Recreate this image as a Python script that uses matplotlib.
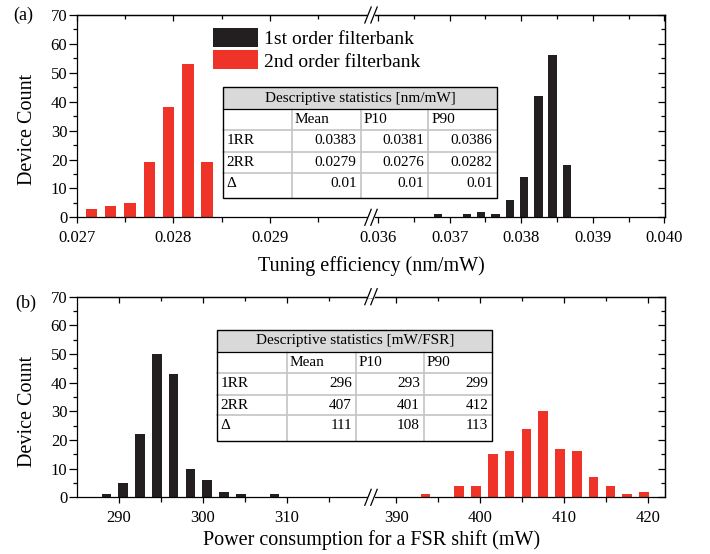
import matplotlib
matplotlib.use("Agg")
import matplotlib.pyplot as plt
from matplotlib.lines import Line2D
from matplotlib.patches import Rectangle

plt.rcParams['font.family'] = ['Liberation Serif', 'DejaVu Serif']
plt.rcParams['axes.linewidth'] = 0.9

# ---------------- data ----------------
# (a) tuning efficiency histograms (bin centres in nm/mW, device counts)
eff_2nd_centers = [0.02715, 0.02735, 0.02755, 0.02775, 0.02795, 0.02815, 0.02835]
eff_2nd_counts = [3, 4, 5, 19, 38, 53, 19]
eff_1st_centers = [0.03684, 0.03724, 0.03744, 0.03764, 0.03784, 0.03804,
                   0.03824, 0.03844, 0.03864]
eff_1st_counts = [1, 1, 2, 1, 6, 14, 42, 56, 18]
eff_bar_width = 0.000118

# (b) power consumption for an FSR shift (mW)
pwr_1st_centers = [288.5, 290.5, 292.5, 294.5, 296.5, 298.5, 300.5, 302.5, 304.5, 308.5]
pwr_1st_counts = [1, 5, 22, 50, 43, 10, 6, 2, 1, 1]
pwr_2nd_centers = [393.5, 397.5, 399.5, 401.5, 403.5, 405.5, 407.5, 409.5,
                   411.5, 413.5, 415.5, 417.5, 419.5]
pwr_2nd_counts = [1, 4, 4, 15, 16, 24, 30, 17, 16, 7, 4, 1, 2]
pwr_bar_width = 1.16

# descriptive statistics tables
stat_cols = ["Mean", "P10", "P90"]
stat_rows = ["1RR", "2RR", "\u0394"]
eff_title = "Descriptive statistics [nm/mW]"
eff_stats = [["0.0383", "0.0381", "0.0386"],
             ["0.0279", "0.0276", "0.0282"],
             ["0.01", "0.01", "0.01"]]
pwr_title = "Descriptive statistics [mW/FSR]"
pwr_stats = [["296", "293", "299"],
             ["407", "401", "412"],
             ["111", "108", "113"]]

legend_labels = ["1st order filterbank", "2nd order filterbank"]
C_1ST = "#231f20"
C_2ND = "#ef3329"

# ---------------- layout ----------------
W, H = 710, 554
fig = plt.figure(figsize=(W / 100, H / 100), dpi=100)


def fx(x):
    return x / W


def fy(y):
    return 1 - y / H


X0, XM, X1 = 77, 371, 665
TICK_FS = 12
LABEL_FS = 14.5


def style_pair(ax_l, ax_r, left_major, left_minor, right_major, right_minor, fmt):
    for ax in (ax_l, ax_r):
        ax.set_ylim(0, 70)
        ax.set_yticks(range(0, 71, 10))
        ax.set_yticks(range(5, 70, 10), minor=True)
        ax.tick_params(axis='x', which='major', direction='out', length=4.5,
                       width=0.9, labelsize=TICK_FS, pad=4.5)
        ax.tick_params(axis='x', which='minor', direction='out', length=3.5, width=0.9)
        ax.tick_params(axis='y', which='major', length=5.5, width=0.9,
                       labelsize=TICK_FS, pad=1.5)
        ax.tick_params(axis='y', which='minor', length=3, width=0.9)
        ax.set_facecolor('none')
    ax_l.set_xticks(left_major)
    ax_l.set_xticks(left_minor, minor=True)
    ax_r.set_xticks(right_major)
    ax_r.set_xticks(right_minor, minor=True)
    ax_l.set_xticklabels([fmt(v) for v in left_major])
    ax_r.set_xticklabels([fmt(v) for v in right_major])

    ax_l.spines['right'].set_visible(False)
    ax_r.spines['left'].set_visible(False)
    ax_l.tick_params(axis='y', which='both', direction='out', right=False)
    ax_r.tick_params(axis='y', which='both', left=False, labelleft=False, right=False)

    # inward ticks along the top edge of both segments
    for ax, mj, mn in ((ax_l, left_major, left_minor), (ax_r, right_major, right_minor)):
        sec = ax.secondary_xaxis('top')
        sec.set_xticks(mj)
        sec.set_xticks(mn, minor=True)
        sec.tick_params(which='major', direction='in', length=4.5, width=0.9, labeltop=False)
        sec.tick_params(which='minor', direction='in', length=3, width=0.9)
        sec.spines['top'].set_linewidth(0.9)
    # inward ticks along the right edge
    secy = ax_r.secondary_yaxis('right')
    secy.set_yticks(range(0, 71, 10))
    secy.set_yticks(range(5, 70, 10), minor=True)
    secy.tick_params(which='major', direction='in', length=5, width=0.9, labelright=False)
    secy.tick_params(which='minor', direction='in', length=3, width=0.9)
    secy.spines['right'].set_linewidth(0.9)


def break_marks(y_top, y_bot):
    for y in (y_top, y_bot):
        fig.add_artist(Rectangle((fx(367.5), fy(y + 1.5)), 7 / W, 3 / H,
                                 transform=fig.transFigure, facecolor='white',
                                 edgecolor='none', zorder=5))
        for xc in (368, 374):
            fig.add_artist(Line2D([fx(xc - 3.2), fx(xc + 3.2)], [fy(y + 8), fy(y - 8)],
                                  transform=fig.transFigure, color='black',
                                  lw=0.9, zorder=6))


def draw_table(col_edges, row_edges, title, cols, rows, cells, fs=11):
    tr = fig.transFigure
    left, right = col_edges[0], col_edges[-1]
    top, bottom = row_edges[0], row_edges[-1]
    fig.add_artist(Rectangle((fx(left), fy(bottom)), (right - left) / W, (bottom - top) / H,
                             transform=tr, facecolor='white', edgecolor='none', zorder=3))
    fig.add_artist(Rectangle((fx(left), fy(row_edges[1])), (right - left) / W,
                             (row_edges[1] - top) / H, transform=tr,
                             facecolor='#d9d9d9', edgecolor='none', zorder=3))
    grid = '#c4c4c4'
    for yv in row_edges[2:-1]:
        fig.add_artist(Line2D([fx(left), fx(right)], [fy(yv), fy(yv)], transform=tr,
                              color=grid, lw=1.2, zorder=4))
    for xv in col_edges[1:-1]:
        fig.add_artist(Line2D([fx(xv), fx(xv)], [fy(row_edges[1]), fy(bottom)],
                              transform=tr, color=grid, lw=1.2, zorder=4))
    fig.add_artist(Line2D([fx(left), fx(right)], [fy(row_edges[1]), fy(row_edges[1])],
                          transform=tr, color='black', lw=0.9, zorder=5))
    fig.add_artist(Rectangle((fx(left), fy(bottom)), (right - left) / W, (bottom - top) / H,
                             transform=tr, facecolor='none', edgecolor='black',
                             lw=1.0, zorder=5))
    fig.text(fx((left + right) / 2), fy((top + row_edges[1]) / 2), title,
             ha='center', va='center', fontsize=fs, zorder=6)
    ycol = row_edges[1] + 10.5
    for j, c in enumerate(cols):
        fig.text(fx(col_edges[j + 1] + 3), fy(ycol), c, ha='left', va='center',
                 fontsize=fs, zorder=6)
    for i, r in enumerate(rows):
        yr = row_edges[i + 2] + 10.5
        fig.text(fx(left + 3), fy(yr), r, ha='left', va='center', fontsize=fs, zorder=6)
        for j, v in enumerate(cells[i]):
            fig.text(fx(col_edges[j + 2] - 4), fy(yr), v, ha='right', va='center',
                     fontsize=fs, zorder=6)


# ---------------- panel (a) ----------------
a_top, a_bot = 15, 217.3
a_l = fig.add_axes([fx(X0), fy(a_bot), (XM - X0) / W, (a_bot - a_top) / H])
a_r = fig.add_axes([fx(XM), fy(a_bot), (X1 - XM) / W, (a_bot - a_top) / H])
a_l.set_xlim(0.027, 0.03005)
a_r.set_xlim(0.0359, 0.04001)
bars_2nd = a_l.bar(eff_2nd_centers, eff_2nd_counts, width=eff_bar_width,
                   color=C_2ND, linewidth=0)
bars_1st = a_r.bar(eff_1st_centers, eff_1st_counts, width=eff_bar_width,
                   color=C_1ST, linewidth=0)
style_pair(a_l, a_r, [0.027, 0.028, 0.029], [0.0275, 0.0285, 0.0295],
           [0.036, 0.037, 0.038, 0.039, 0.040], [0.0365, 0.0375, 0.0385, 0.0395],
           lambda v: f"{v:.3f}")
a_l.legend([bars_1st, bars_2nd], legend_labels, loc='upper left',
           bbox_to_anchor=(fx(213), fy(28)), bbox_transform=fig.transFigure,
           frameon=False, fontsize=14, handlelength=2.32, handleheight=1.13,
           handletextpad=0.3, labelspacing=0.12, borderpad=0, borderaxespad=0)

# ---------------- panel (b) ----------------
b_top, b_bot = 296.7, 497.3
b_l = fig.add_axes([fx(X0), fy(b_bot), (XM - X0) / W, (b_bot - b_top) / H])
b_r = fig.add_axes([fx(XM), fy(b_bot), (X1 - XM) / W, (b_bot - b_top) / H])
b_l.set_xlim(285, 320)
b_r.set_xlim(387, 422)
b_l.bar(pwr_1st_centers, pwr_1st_counts, width=pwr_bar_width, color=C_1ST, linewidth=0)
b_r.bar(pwr_2nd_centers, pwr_2nd_counts, width=pwr_bar_width, color=C_2ND, linewidth=0)
style_pair(b_l, b_r, [290, 300, 310], [295, 305, 315],
           [390, 400, 410, 420], [395, 405, 415], lambda v: f"{v:d}")

break_marks(a_top, a_bot)
break_marks(b_top, b_bot)

# ---------------- tables ----------------
draw_table([223.3, 291.7, 360.7, 428.3, 496.7],
           [87.3, 109.3, 130, 151.7, 173.3, 198.3],
           eff_title, stat_cols, stat_rows, eff_stats)
draw_table([217.3, 286.7, 356, 424, 492.3],
           [329.5, 351.7, 373.3, 394.7, 415.3, 441],
           pwr_title, stat_cols, stat_rows, pwr_stats)

# ---------------- labels ----------------
fig.text(fx(371), fy(266), "Tuning efficiency (nm/mW)", ha='center', va='center',
         fontsize=LABEL_FS)
fig.text(fx(372), fy(540), "Power consumption for a FSR shift (mW)", ha='center',
         va='center', fontsize=LABEL_FS)
fig.text(fx(28), fy(129), "Device Count", rotation=90, ha='center', va='center',
         fontsize=LABEL_FS)
fig.text(fx(28), fy(411), "Device Count", rotation=90, ha='center', va='center',
         fontsize=LABEL_FS)
fig.text(fx(23), fy(15), "(a)", ha='center', va='center', fontsize=13)
fig.text(fx(26), fy(303), "(b)", ha='center', va='center', fontsize=13)

fig.savefig("out.png", dpi=100)
